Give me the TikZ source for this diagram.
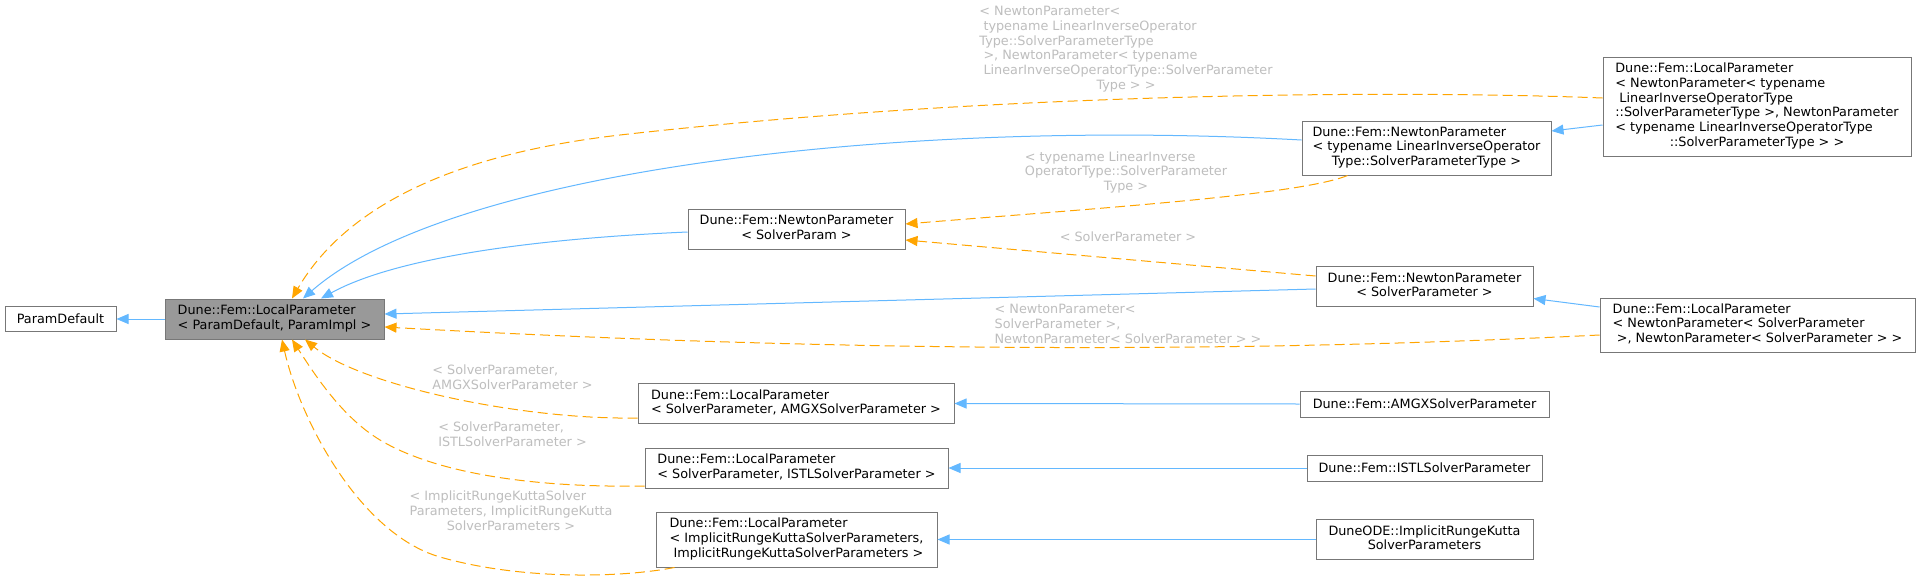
\documentclass[tikz,border=0pt]{standalone}
\usepackage{fontspec}
\setmainfont{DejaVu Sans}
\usetikzlibrary{arrows.meta,calc}
\definecolor{eblue}{HTML}{63B8FF}
\definecolor{eorange}{HTML}{FFA500}
\definecolor{lgray}{HTML}{BEBEBE}
\definecolor{bgray}{HTML}{777777}
\definecolor{mfill}{HTML}{999999}
\newcommand{\ml}[2]{\begin{tabular}{@{}l@{}}#1\\\multicolumn{1}{@{}c@{}}{#2}\end{tabular}}
\tikzset{
  box/.style={draw=bgray, fill=white, line width=1pt, inner sep=0pt, text=black,
    font=\fontsize{12.8}{14.7}\selectfont},
  mainbox/.style={box, fill=mfill},
  elabel/.style={text=lgray, inner sep=0pt, font=\fontsize{12.8}{14.7}\selectfont},
  bedge/.style={draw=eblue, line width=1pt, -{Triangle[length=12pt,width=10pt]}},
  oedge/.style={draw=eorange, line width=1pt, dash pattern=on 10pt off 5pt,
    -{Triangle[length=12pt,width=10pt]}},
}
\begin{document}
\begin{tikzpicture}[x=1pt,y=-1pt]
\useasboundingbox (0,0) rectangle (1920,581);
\fill[white] (0,0) rectangle (1920,581);

% nodes
\node[box, minimum width=111pt, minimum height=25pt] (pd) at (60.5,319) {ParamDefault};
\node[mainbox, minimum width=219pt, minimum height=40pt] (main) at (274.5,319)
  {\ml{Dune::Fem::LocalParameter}{< ParamDefault, ParamImpl >}};
\node[box, minimum width=217pt, minimum height=40pt] (nsp) at (796.5,229)
  {\ml{Dune::Fem::NewtonParameter}{< SolverParam >}};
\node[box, minimum width=249pt, minimum height=54pt] (nlt) at (1426.5,148)
  {\ml{Dune::Fem::NewtonParameter\\< typename LinearInverseOperator}{Type::SolverParameterType >}};
\node[box, minimum width=308pt, minimum height=99pt] (tr) at (1757,106.5)
  {\ml{Dune::Fem::LocalParameter\\< NewtonParameter< typename\\~LinearInverseOperatorType\\::SolverParameterType >, NewtonParameter\\< typename LinearInverseOperatorType}{::SolverParameterType > >}};
\node[box, minimum width=217pt, minimum height=40pt] (nspr) at (1424.5,286.5)
  {\ml{Dune::Fem::NewtonParameter}{< SolverParameter >}};
\node[box, minimum width=315pt, minimum height=54pt] (lnsp) at (1757.5,325)
  {\ml{Dune::Fem::LocalParameter\\< NewtonParameter< SolverParameter}{~>, NewtonParameter< SolverParameter > >}};
\node[box, minimum width=316pt, minimum height=40pt] (lamgx) at (796,403.5)
  {\ml{Dune::Fem::LocalParameter}{< SolverParameter, AMGXSolverParameter >}};
\node[box, minimum width=303pt, minimum height=40pt] (listl) at (796.5,468)
  {\ml{Dune::Fem::LocalParameter}{< SolverParameter, ISTLSolverParameter >}};
\node[box, minimum width=281pt, minimum height=55pt] (lirk) at (796.5,539.5)
  {\ml{Dune::Fem::LocalParameter\\< ImplicitRungeKuttaSolverParameters,}{~ImplicitRungeKuttaSolverParameters >}};
\node[box, minimum width=249pt, minimum height=26pt] (amgx) at (1424.5,404) {Dune::Fem::AMGXSolverParameter};
\node[box, minimum width=235pt, minimum height=26pt] (istl) at (1424.5,468) {Dune::Fem::ISTLSolverParameter};
\node[box, minimum width=217pt, minimum height=40pt] (ode) at (1424.5,539.5)
  {\ml{DuneODE::ImplicitRungeKutta}{SolverParameters}};

% edge labels
\node[elabel] (l1) at (1126,49.5)
  {\ml{< NewtonParameter<\\~typename LinearInverseOperator\\Type::SolverParameterType\\~>, NewtonParameter< typename\\~LinearInverseOperatorType::SolverParameter}{Type > >}};
\node[elabel] (l2) at (1126,173)
  {\ml{< typename LinearInverse\\OperatorType::SolverParameter}{Type >}};
\node[elabel] (l3) at (1128,237) {< SolverParameter >};
\node[elabel] (l4) at (1128,325.5)
  {\ml{< NewtonParameter<\\SolverParameter >,}{NewtonParameter< SolverParameter > >}};
\node[elabel] (l5) at (512.5,379) {\ml{< SolverParameter,}{AMGXSolverParameter >}};
\node[elabel] (l6) at (512.5,436) {\ml{< SolverParameter,}{ISTLSolverParameter >}};
\node[elabel] (l7) at (511,512.5)
  {\ml{< ImplicitRungeKuttaSolver\\Parameters, ImplicitRungeKutta}{SolverParameters >}};

% edges
\draw[bedge] (main.west) -- (pd.east);
\draw[oedge] ($(tr.west)+(0,-8.5)$) .. controls (1400,90) and (1000,92) .. (620,135)
  .. controls (420,158) and (335,225) .. ($(main.north)+(17.5,0)$);
\draw[bedge] ($(nlt.west)+(0,-8)$) .. controls (900,118) and (450,170) .. ($(main.north)+(28.5,0)$);
\draw[bedge] ($(nsp.west)+(0,3)$) .. controls (550,238) and (400,255) .. ($(main.north)+(46.5,0)$);
\draw[bedge] ($(nspr.west)+(0,2.5)$) -- ($(main.east)+(0,-5)$);
\draw[oedge] ($(lnsp.west)+(0,10)$) .. controls (1200,355) and (800,350) .. ($(main.east)+(0,8)$);
\draw[oedge] ($(nlt.south west)+(46,0)$) .. controls (1300,195) and (1100,208) .. ($(nsp.east)+(0,-5)$);
\draw[oedge] ($(nspr.west)+(0,-10.5)$) -- ($(nsp.east)+(0,11)$);
\draw[bedge] ($(tr.west)+(0,18.5)$) -- ($(nlt.east)+(0,-17)$);
\draw[bedge] ($(lnsp.west)+(0,-18)$) -- ($(nspr.east)+(0,12)$);
\draw[bedge] (amgx.west) -- (lamgx.east);
\draw[bedge] (istl.west) -- (listl.east);
\draw[bedge] (ode.west) -- (lirk.east);
\draw[oedge] ($(lamgx.west)+(0,14.5)$) .. controls (520,420) and (360,385) .. ($(main.south)+(30.5,0)$);
\draw[oedge] ($(listl.west)+(0,18)$) .. controls (520,488) and (430,470) .. (380,440)
  .. controls (342,417) and (315,375) .. ($(main.south)+(17.5,0)$);
\draw[oedge] ($(lirk.south west)+(19,0)$) .. controls (620,578) and (520,580) .. (440,557)
  .. controls (360,534) and (300,420) .. ($(main.south)+(7.5,0)$);
\end{tikzpicture}
\end{document}
